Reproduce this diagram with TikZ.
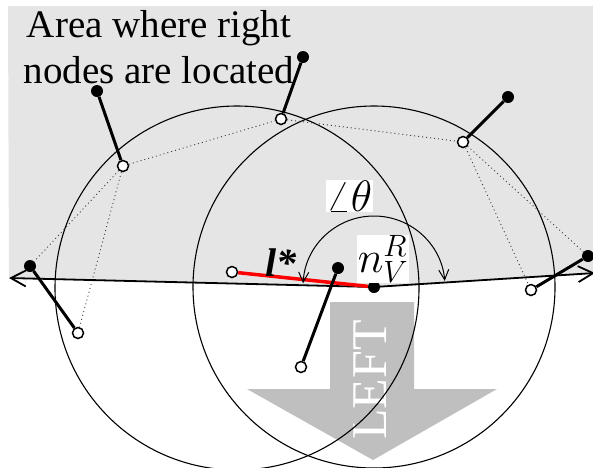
\RequirePackage{fix-cm}
\documentclass[tikz,border=0pt]{standalone}
\usepackage{fontspec}
\setmainfont{Liberation Serif}
\usetikzlibrary{arrows.meta}

\tikzset{
    fullnode/.style = {circle, fill=black, inner sep=0pt, minimum size=12pt},
    opennode/.style = {circle, draw=black, fill=white, line width=1.5pt, inner sep=0pt, minimum size=11pt},
    stick/.style = {line width=3pt},
    hint/.style = {dash pattern=on 1pt off 3pt, line width=0.9pt, black!75},
    bigbarb/.tip = {Straight Barb[length=15pt, width=16pt]},
    smallbarb/.tip = {Straight Barb[length=10pt, width=10pt]},
}

\begin{document}
\begin{tikzpicture}[x=1pt, y=-1pt]

    \clip (0,0) rectangle (593,467);
    \useasboundingbox (0,0) rectangle (593,467);

    % Define the corners of the boundary line
    \coordinate (W) at (9,278);
    \coordinate (V) at (374,287);
    \coordinate (E) at (595,273);
    \coordinate (C) at (237,288);

    % Shade the area of the right nodes
    \fill[black!10] (8,6) -- (593,6) -- (593,273) -- (V) -- (W) -- cycle;

    % Draw the big arrow
    \fill[black!25] (330,302) -- (414,302) -- (414,389) -- (497,389) -- (373,460) -- (247,389) -- (330,389) -- cycle;
    \node[white, rotate=90, font=\fontsize{50}{50}\selectfont] (left) at (370,380) {LEFT};

    % Draw the circles
    \draw[line width=1.1pt] (C) circle[radius=182];
    \draw[line width=1.1pt] (V) circle[radius=181];

    % Text of the area
    \node[align=center, anchor=north, inner sep=0pt, font=\fontsize{39}{46}\selectfont] (area) at (159,10) {Area where right\\nodes are located};

    % Place the nodes
    \node[fullnode] (N) at (V) {};
    \node[opennode] (L) at (232,272) {};
    \node[fullnode] (F1) at (97,91) {};
    \node[opennode] (H1) at (123,166) {};
    \node[fullnode] (F2) at (303,57) {};
    \node[opennode] (H2) at (281,119) {};
    \node[fullnode] (F3) at (508,97) {};
    \node[opennode] (H3) at (463,142) {};
    \node[fullnode] (F4) at (30,266) {};
    \node[opennode] (H4) at (78,333) {};
    \node[fullnode] (F5) at (338,268) {};
    \node[opennode] (H5) at (301,367) {};
    \node[fullnode] (F6) at (588,256) {};
    \node[opennode] (H6) at (531,290) {};

    % Dotted lines between the nodes
    \draw[hint] (H1) -- (H2);
    \draw[hint] (H2) -- (H3);
    \draw[hint] (H1) -- (F4);
    \draw[hint] (H1) -- (H4);
    \draw[hint] (H3) -- (H6);
    \draw[hint] (H3) -- (F6);

    % Draw the boundary line
    \draw[line width=1.8pt, bigbarb-bigbarb] (W) -- (N.center) -- (E);
    \draw[red, line width=3.5pt] (L) -- (N);

    % Draw the sticks
    \draw[stick] (F1) -- (H1);
    \draw[stick] (F2) -- (H2);
    \draw[stick] (F3) -- (H3);
    \draw[stick] (F4) -- (H4);
    \draw[stick] (F5) -- (H5);
    \draw[stick] (F6) -- (H6);

    % Angle arc
    \draw[line width=1pt, smallbarb-smallbarb] (V) ++(183:71) arc[start angle=183, end angle=355, radius=71];

    % Labels
    \node[fill=white, inner sep=0.5pt, font=\fontsize{44}{44}\selectfont] (theta) at (349.5,196) {$\angle\theta$};
    \node[fill=white, inner sep=0.5pt, font=\fontsize{44}{44}\selectfont] (nvr) at (383,259) {$n_V^R$};
    \node[font=\fontsize{40}{40}\selectfont\bfseries\itshape] (lstar) at (281,263) {l*};

\end{tikzpicture}
\end{document}
